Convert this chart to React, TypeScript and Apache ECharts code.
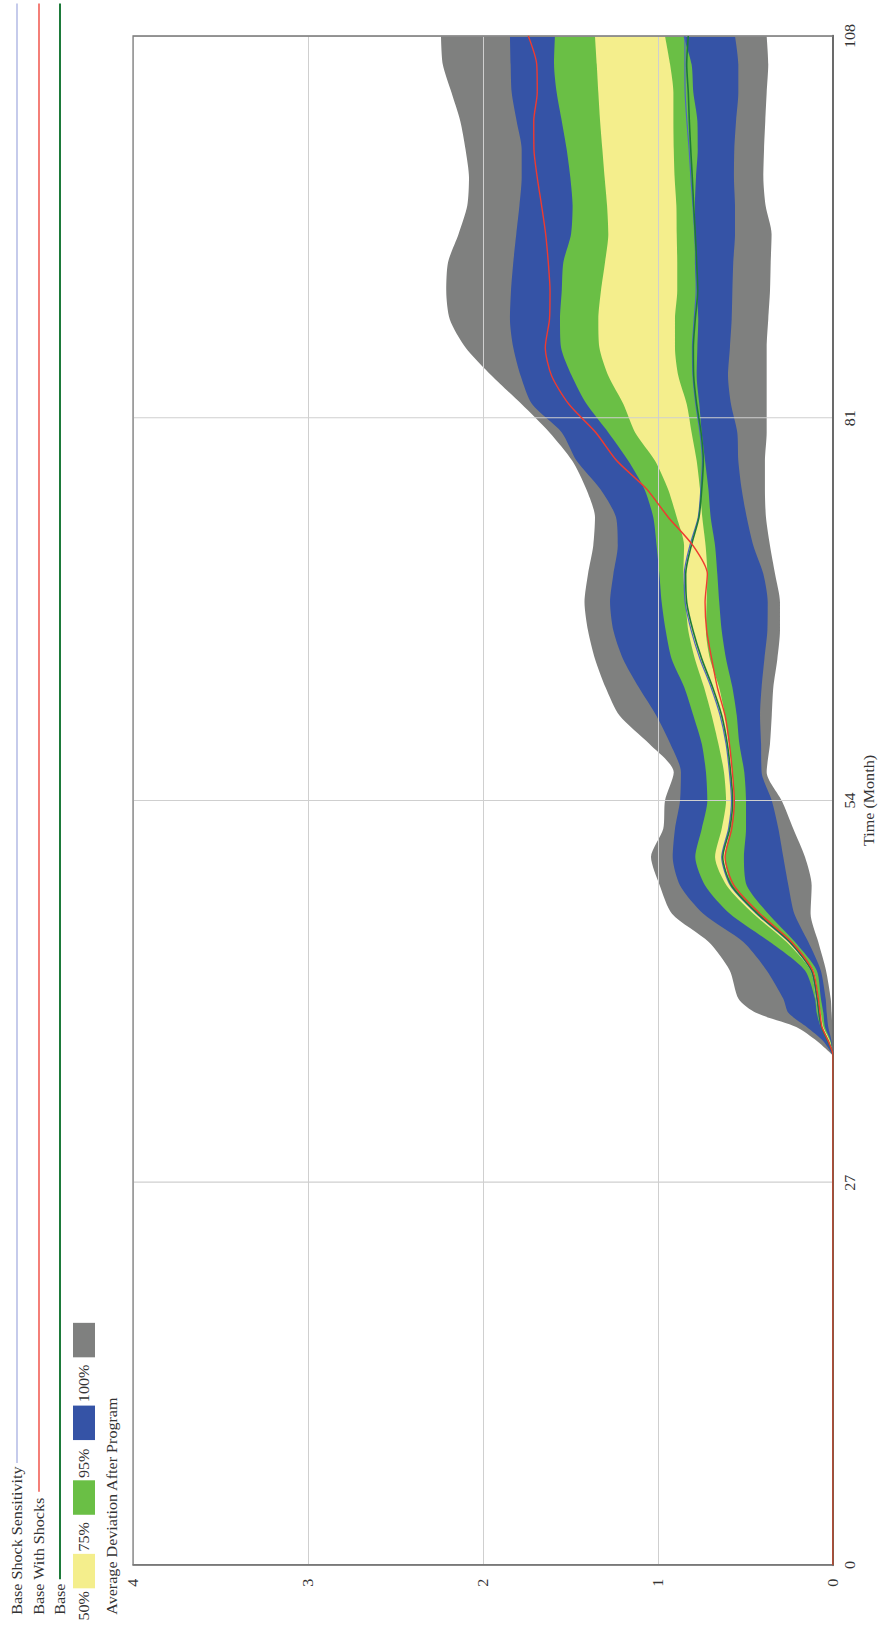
import React, { useEffect, useRef } from "react";
import * as echarts from "echarts";

// Time (Month) sample points
const times = [0, 36, 37, 38, 39, 40, 42, 44, 46, 48, 50, 52, 54, 56, 58, 60, 62, 64, 66, 68, 70, 72, 74, 76, 78, 80, 82, 84, 86, 88, 90, 92, 94, 96, 98, 100, 102, 104, 106, 108];

// Sensitivity envelope bounds (upper / lower) for 100%, 95%, 75%, 50%
const hi100 = [0, 0, 0.09, 0.21, 0.44, 0.54, 0.59, 0.71, 0.92, 0.99, 1.04, 0.97, 0.96, 0.91, 1.05, 1.22, 1.30, 1.36, 1.40, 1.42, 1.40, 1.37, 1.36, 1.41, 1.49, 1.62, 1.78, 1.95, 2.10, 2.19, 2.21, 2.20, 2.14, 2.09, 2.08, 2.10, 2.13, 2.18, 2.23, 2.24];
const hi95 = [0, 0, 0.055, 0.15, 0.255, 0.284, 0.379, 0.512, 0.741, 0.874, 0.916, 0.903, 0.874, 0.869, 0.93, 1.01, 1.11, 1.20, 1.255, 1.274, 1.255, 1.23, 1.24, 1.33, 1.465, 1.55, 1.72, 1.785, 1.827, 1.846, 1.84, 1.827, 1.81, 1.792, 1.779, 1.779, 1.808, 1.836, 1.842, 1.846];
const hi75 = [0, 0, 0.027, 0.07, 0.093, 0.103, 0.16, 0.36, 0.589, 0.731, 0.787, 0.75, 0.718, 0.726, 0.75, 0.798, 0.85, 0.922, 0.956, 0.979, 0.992, 1.008, 1.027, 1.078, 1.17, 1.284, 1.408, 1.493, 1.554, 1.56, 1.55, 1.541, 1.497, 1.488, 1.501, 1.522, 1.55, 1.579, 1.594, 1.589];
const hi50 = [0, 0, 0.021, 0.063, 0.084, 0.097, 0.128, 0.265, 0.455, 0.608, 0.674, 0.636, 0.611, 0.623, 0.655, 0.693, 0.737, 0.789, 0.827, 0.842, 0.855, 0.851, 0.893, 0.943, 1.017, 1.131, 1.198, 1.284, 1.335, 1.341, 1.326, 1.303, 1.284, 1.291, 1.305, 1.318, 1.331, 1.341, 1.35, 1.36];
const lo50 = [0, 0, 0.017, 0.055, 0.07, 0.084, 0.112, 0.246, 0.436, 0.579, 0.617, 0.585, 0.566, 0.575, 0.594, 0.617, 0.651, 0.703, 0.726, 0.722, 0.718, 0.728, 0.747, 0.76, 0.779, 0.808, 0.836, 0.884, 0.903, 0.903, 0.89, 0.89, 0.893, 0.895, 0.905, 0.91, 0.912, 0.912, 0.931, 0.96];
const lo75 = [0, 0, 0.013, 0.046, 0.055, 0.069, 0.093, 0.217, 0.37, 0.493, 0.509, 0.497, 0.497, 0.507, 0.535, 0.55, 0.575, 0.611, 0.636, 0.65, 0.661, 0.674, 0.699, 0.712, 0.731, 0.75, 0.764, 0.779, 0.775, 0.77, 0.779, 0.789, 0.789, 0.789, 0.783, 0.773, 0.775, 0.798, 0.808, 0.855];
const lo95 = [0, 0, 0.008, 0.027, 0.036, 0.042, 0.07, 0.141, 0.221, 0.255, 0.284, 0.312, 0.35, 0.408, 0.411, 0.417, 0.408, 0.392, 0.375, 0.373, 0.398, 0.455, 0.493, 0.522, 0.541, 0.547, 0.583, 0.6, 0.589, 0.579, 0.575, 0.57, 0.56, 0.56, 0.566, 0.564, 0.554, 0.541, 0.541, 0.56];
const lo100 = [0, 0, 0.002, 0.004, 0.008, 0.013, 0.04, 0.084, 0.128, 0.122, 0.16, 0.227, 0.293, 0.379, 0.36, 0.35, 0.341, 0.318, 0.303, 0.303, 0.331, 0.36, 0.383, 0.389, 0.389, 0.379, 0.379, 0.379, 0.379, 0.37, 0.36, 0.356, 0.351, 0.385, 0.398, 0.394, 0.387, 0.379, 0.37, 0.379];

// Runs
const baseShockSensitivity = [0, 0, 0.03, 0.068, 0.082, 0.093, 0.125, 0.25, 0.436, 0.586, 0.636, 0.597, 0.58, 0.592, 0.611, 0.645, 0.697, 0.76, 0.81, 0.845, 0.85, 0.818, 0.77, 0.755, 0.746, 0.76, 0.784, 0.80, 0.803, 0.793, 0.782, 0.783, 0.79, 0.80, 0.812, 0.822, 0.835, 0.845, 0.846, 0.846];
const baseWithShocks = [0, 0, 0.027, 0.063, 0.074, 0.084, 0.116, 0.236, 0.417, 0.566, 0.617, 0.579, 0.564, 0.575, 0.592, 0.617, 0.661, 0.693, 0.722, 0.731, 0.718, 0.80, 0.941, 1.065, 1.236, 1.356, 1.51, 1.608, 1.644, 1.62, 1.617, 1.627, 1.642, 1.665, 1.69, 1.709, 1.71, 1.69, 1.693, 1.741];
const base = [0, 0, 0.03, 0.066, 0.08, 0.09, 0.122, 0.245, 0.43, 0.58, 0.63, 0.59, 0.573, 0.585, 0.604, 0.636, 0.688, 0.75, 0.80, 0.836, 0.842, 0.81, 0.766, 0.75, 0.741, 0.754, 0.779, 0.796, 0.798, 0.787, 0.773, 0.779, 0.787, 0.796, 0.804, 0.813, 0.821, 0.827, 0.836, 0.827];

// Axis ticks and legend labels
const timeTicks = [0, 27, 54, 81, 108];
const valueTicks = [0, 1, 2, 3, 4];
const runNames = ["Base Shock Sensitivity", "Base With Shocks", "Base"];
const bandNames = ["50%", "75%", "95%", "100%"];
const yAxisTitle = "Average Deviation After Program";
const xAxisTitle = "Time (Month)";

const FONT = '"Liberation Serif", "Times New Roman", serif';
const PAGE_W = 883;
const PAGE_H = 1632;
const CW = 1420;
const CH = PAGE_W;
const SX = PAGE_H / CW;

const COL = {
  yellow: "#f4ee8c",
  green: "#6abf45",
  blue: "#3553a6",
  gray: "#7f807f",
  legendSens: "#9fa8de",
  sens: "#4f66c4",
  red: "#ee3b30",
  base: "#1d7a3a",
  text: "#333333",
  grid: "#cfcfcf",
};

const BAND_START = 1;

function pairs(vals: number[], from = 0) {
  return times.slice(from).map((t, i) => [t, vals[from + i]]);
}

export default function App() {
  const ref = useRef<HTMLDivElement | null>(null);

  useEffect(() => {
    if (!ref.current) return;
    const chart = echarts.init(ref.current, undefined, { renderer: "svg", width: CW, height: CH });

    const smooth = 0.25;
    // Nested envelopes painted from the outermost upper bound inward, each filled down to 0.
    const fills: [string, number[], string][] = [
      ["hi100", hi100, COL.gray],
      ["hi95", hi95, COL.blue],
      ["hi75", hi75, COL.green],
      ["hi50", hi50, COL.yellow],
      ["lo50", lo50, COL.green],
      ["lo75", lo75, COL.blue],
      ["lo95", lo95, COL.gray],
      ["lo100", lo100, "#ffffff"],
    ];
    const bandSeries = fills.map(([name, vals, color]) => ({
      type: "line",
      name,
      symbol: "none",
      smooth,
      silent: true,
      z: 2,
      data: pairs(vals, BAND_START),
      lineStyle: { width: 0, opacity: 0 },
      areaStyle: { color, opacity: 1 },
    }));

    const lineCommon = { type: "line", symbol: "none", smooth, silent: true, z: 5 };
    const lineSeries = [
      { ...lineCommon, name: runNames[0], data: pairs(baseShockSensitivity), lineStyle: { color: COL.sens, width: 1.2 } },
      { ...lineCommon, name: runNames[2], data: pairs(base), lineStyle: { color: COL.base, width: 1.6 } },
      { ...lineCommon, name: runNames[1], data: pairs(baseWithShocks), lineStyle: { color: COL.red, width: 1.4 } },
    ];

    const txt = (text: string, x: number, y: number) => ({
      type: "text",
      x,
      y,
      silent: true,
      style: { text, fontSize: 14, fontFamily: FONT, fill: COL.text, align: "left", verticalAlign: "middle" },
    });
    const ln = (x1: number, y: number, color: string, w: number) => ({
      type: "line",
      silent: true,
      shape: { x1, y1: y, x2: CW - 3, y2: y },
      style: { stroke: color, lineWidth: w },
    });
    const sw = (x: number, color: string) => ({
      type: "rect",
      silent: true,
      shape: { x, y: 73, width: 30, height: 22 },
      style: { fill: color },
    });

    const graphic = [
      txt(runNames[0], 15, 17),
      ln(147, 17, COL.legendSens, 1.2),
      txt(runNames[1], 15, 39),
      ln(122, 39, COL.red, 1.3),
      txt(runNames[2], 15, 60),
      ln(46, 60, COL.base, 2),
      txt(bandNames[0], 10, 84),
      sw(38, COL.yellow),
      txt(bandNames[1], 70, 84),
      sw(102, COL.green),
      txt(bandNames[2], 134, 84),
      sw(167, COL.blue),
      txt(bandNames[3], 200, 84),
      sw(239, COL.gray),
      txt(yAxisTitle, 15, 112),
    ];

    const labelStyle = { color: COL.text, fontSize: 14, fontFamily: FONT };

    chart.setOption({
      animation: false,
      backgroundColor: "#ffffff",
      textStyle: { fontFamily: FONT },
      grid: {
        left: 58.3,
        right: 31.3,
        top: 133,
        bottom: 50,
        show: true,
        z: 4,
        backgroundColor: "transparent",
        borderColor: "#7a7a7a",
        borderWidth: 1.2,
      },
      xAxis: {
        type: "value",
        z: 3,
        min: timeTicks[0],
        max: timeTicks[timeTicks.length - 1],
        interval: timeTicks[1] - timeTicks[0],
        name: xAxisTitle,
        nameLocation: "middle",
        nameGap: 27,
        nameTextStyle: labelStyle,
        axisLine: { show: true, lineStyle: { color: "#555555", width: 2 } },
        axisTick: { show: false },
        axisLabel: { ...labelStyle, margin: 10 },
        splitLine: { show: true, lineStyle: { color: COL.grid, width: 1 } },
      },
      yAxis: {
        type: "value",
        z: 3,
        min: valueTicks[0],
        max: valueTicks[valueTicks.length - 1],
        interval: valueTicks[1] - valueTicks[0],
        axisLine: { show: true, lineStyle: { color: "#7a7a7a", width: 1.2 } },
        axisTick: { show: false },
        axisLabel: { ...labelStyle, margin: 12 },
        splitLine: { show: true, lineStyle: { color: COL.grid, width: 1 } },
      },
      graphic,
      series: [...bandSeries, ...lineSeries],
    } as any);

    return () => {
      chart.dispose();
    };
  }, []);

  return (
    <div
      style={{
        position: "fixed",
        left: 0,
        top: 0,
        width: PAGE_W,
        height: PAGE_H,
        overflow: "hidden",
        background: "#ffffff",
      }}
    >
      <div
        ref={ref}
        style={{
          position: "absolute",
          left: 0,
          top: 0,
          width: CW,
          height: CH,
          transformOrigin: "0 0",
          transform: `translate(0px, ${PAGE_H}px) rotate(-90deg) scale(${SX}, 1)`,
        }}
      />
    </div>
  );
}
